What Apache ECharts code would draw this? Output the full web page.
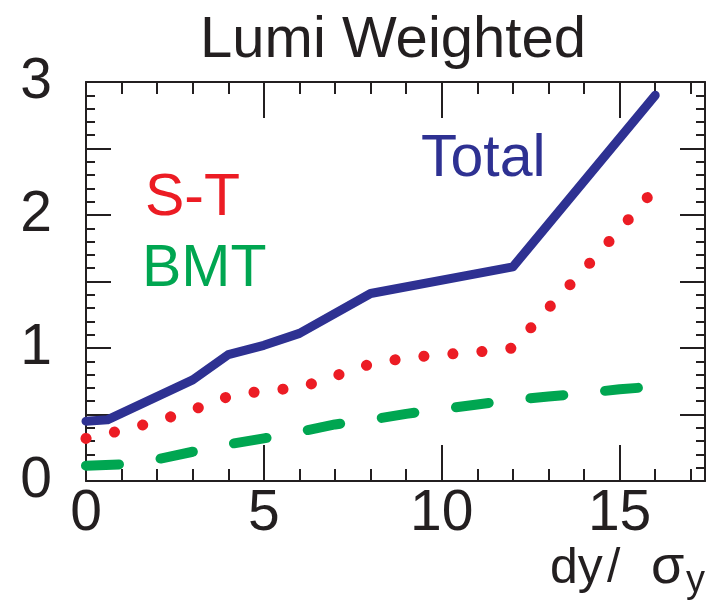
<!DOCTYPE html>
<html>
<head>
<meta charset="utf-8">
<script src="https://cdn.jsdelivr.net/npm/echarts@6/dist/echarts.min.js"></script>
<style>html,body{margin:0;padding:0;background:#fff}#c{width:707px;height:607px}</style>
</head>
<body>
<div id="c"></div>
<script>
// ---- data ----
const xTotal = [0, 0.6, 3, 4, 5, 6, 8, 12, 16];
const yTotal = [0.45, 0.46, 0.76, 0.95, 1.02, 1.11, 1.41, 1.61, 2.90];
const xST = [0, 1, 2, 3, 4, 5, 6, 7, 8, 9, 10, 11, 12, 13, 14, 15, 16];
const yST = [0.32, 0.38, 0.45, 0.535, 0.635, 0.68, 0.70, 0.79, 0.88, 0.925, 0.95, 0.97, 1.0, 1.30, 1.59, 1.89, 2.20];
const xBMT = [0, 1, 2, 3, 4, 5, 6, 7, 8, 9, 10, 11, 12, 13, 14, 15, 16];
const yBMT = [0.115, 0.125, 0.163, 0.22, 0.276, 0.32, 0.37, 0.425, 0.46, 0.505, 0.54, 0.575, 0.61, 0.635, 0.66, 0.69, 0.71];
const xTickLabels = ['0', '5', '10', '15'];
const yTickLabels = ['0', '1', '2', '3'];
const seriesNames = ['Total', 'S-T', 'BMT'];
const titleText = 'Lumi Weighted';

const pairs = (xs, ys) => xs.map((x, i) => [x, ys[i]]);
const FONT = '"Liberation Sans", Arial, Helvetica, sans-serif';
const INK = '#231f20';
const BLUE = '#2e3192', RED = '#ec1c24', GREEN = '#00a651';

const chart = echarts.init(document.getElementById('c'), null, {renderer: 'canvas'});

function xAx(pos, showLabel) {
  return {
    type: 'value', position: pos, min: 0, max: 17.4, interval: 5,
    splitLine: {show: false},
    axisLine: {onZero: false, lineStyle: {color: INK, width: 2}},
    axisTick: {inside: true, length: 36, lineStyle: {color: INK, width: 2}},
    minorTick: {show: true, splitNumber: 5, length: 12, lineStyle: {color: INK, width: 2}},
    axisLabel: {
      show: showLabel, margin: 5, color: INK, fontSize: 57, fontFamily: FONT,
      showMaxLabel: false,
      formatter: v => { const s = String(Math.round(v)); return (Math.abs(v % 5) < 1e-6 && xTickLabels.includes(s)) ? s : ''; }
    }
  };
}
function yAx(pos, showLabel) {
  return {
    type: 'value', position: pos, min: 0, max: 3, interval: 0.5,
    splitLine: {show: false},
    axisLine: {onZero: false, lineStyle: {color: INK, width: 2}},
    axisTick: {inside: true, length: 25, lineStyle: {color: INK, width: 2}},
    minorTick: {show: true, splitNumber: 5, length: 9, lineStyle: {color: INK, width: 2}},
    axisLabel: {
      show: showLabel, margin: 34, color: INK, fontSize: 57, fontFamily: FONT,
      formatter: v => { const s = String(Math.round(v)); return (Math.abs(v - Math.round(v)) < 1e-6 && yTickLabels.includes(s)) ? s : ''; }
    }
  };
}

function txt(text, x, y, size, color, align) {
  return {type: 'text', x: x, y: y, silent: true,
    style: {text: text, fontSize: size, fontFamily: FONT, fill: color, align: align || 'left', verticalAlign: 'middle'}};
}

chart.setOption({
  animation: false,
  grid: {left: 86, right: 2, top: 82, bottom: 126, containLabel: false},
  xAxis: [xAx('bottom', true), xAx('top', false)],
  yAxis: [yAx('left', true), yAx('right', false)],
  series: [
    {name: seriesNames[0], type: 'line', data: pairs(xTotal, yTotal), showSymbol: false, clip: false,
     lineStyle: {color: BLUE, width: 9, cap: 'round', join: 'round'}},
    {name: seriesNames[1], type: 'line', data: pairs(xST, yST), showSymbol: false, clip: false,
     lineStyle: {color: RED, width: 11, type: [0.1, 29], cap: 'round', join: 'round'}},
    {name: seriesNames[2], type: 'line', data: pairs(xBMT, yBMT), showSymbol: false, clip: false,
     lineStyle: {color: GREEN, width: 10, type: [33, 42], cap: 'round', join: 'round'}}
  ],
  graphic: [
    txt(titleText, 393, 41, 58, INK, 'center'),
    txt(seriesNames[0], 421, 160, 59, BLUE),
    txt(seriesNames[1], 145, 199, 59, RED),
    txt(seriesNames[2], 142, 270, 59, GREEN),
    txt('dy', 550, 569, 50, INK),
    txt('/', 607, 569, 48, INK),
    txt('σ', 651, 568, 54, INK),
    txt('y', 686, 582, 38, INK)
  ]
});
</script>
</body>
</html>
